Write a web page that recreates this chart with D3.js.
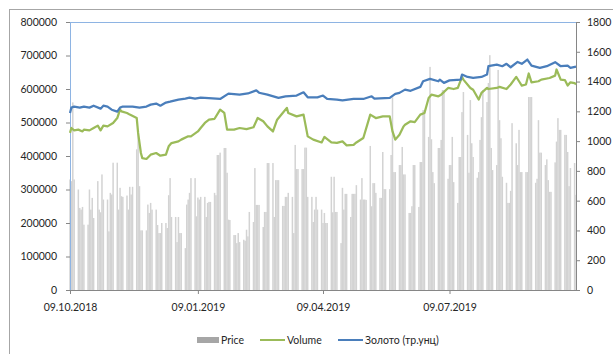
<!DOCTYPE html>
<html>
<head>
<meta charset="utf-8">
<script src="https://cdn.jsdelivr.net/npm/d3@7"></script>
<style>
  body { margin: 0; background: #fff; }
  svg { display: block; }
  text { font-family: Lato, "Open Sans", sans-serif; fill: #262626; }
</style>
</head>
<body>
<svg id="chart" width="613" height="354"></svg>
<script>
// ---- data -------------------------------------------------------------
const firstDay = "2018-10-09";
const lastDay = "2019-10-08";
const dateTicks = ["2018-10-09", "2019-01-09", "2019-04-09", "2019-07-09"];
const leftTicks = [0, 100000, 200000, 300000, 400000, 500000, 600000, 700000, 800000];
const rightTicks = [0, 200, 400, 600, 800, 1000, 1200, 1400, 1600, 1800];
const seriesNames = ["Price", "Volume", "Золото (тр.унц)"];

// daily price, one value per trading day (Mon–Fri) from firstDay to lastDay
const price = [
  330000, 325000, 560000, 330000,
  300000, 245000, 240000, 248000, 195000,
  195000, 300000, 240000, 275000, 215000,
  325000, 240000, 232000, 345000, 270000,
  270000, 175000, 290000, 285000, 380000,
  380000, 240000, 305000, 280000, 278000,
  282000, 240000, 308000, 285000, 308000,
  420000, 470000, 310000, 178000, 178000,
  178000, 255000, 230000, 260000, 240000,
  240000, 194000, 170000, 170000, 200000,
  200000, 185000, 283000, 334000, 218000,
  218000, 143000, 218000, 170000, 170000,
  125000, 255000, 270000, 290000, 334000,
  334000, 220000, 276000, 270000, 278000,
  278000, 218000, 260000, 263000, 263000,
  290000, 283000, 403000, 403000, 410000,
  424000, 424000, 350000, 210000, 209000,
  164000, 164000, 140000, 170000, 143000,
  150000, 147000, 180000, 160000, 233000,
  203000, 364000, 254000, 254000, 254000,
  188000, 233000, 233000, 379000, 379000,
  379000, 218000, 328000, 328000, 328000,
  251000, 251000, 278000, 278000, 290000,
  278000, 170000, 433000, 361000, 361000,
  361000, 361000, 425000, 425000, 278000,
  278000, 203000, 240000, 278000, 240000,
  240000, 200000, 230000, 200000, 200000,
  338000, 232000, 338000, 233000, 233000,
  140000, 305000, 240000, 287000, 287000,
  218000, 287000, 287000, 287000, 313000,
  270000, 334000, 270000, 270000, 269000,
  430000, 250000, 319000, 319000, 290000,
  275000, 275000, 412000, 301000, 301000,
  301000, 403000, 575000, 352000, 352000,
  373000, 373000, 427000, 345000, 345000,
  230000, 230000, 250000, 373000, 373000,
  248000, 382000, 382000, 537000, 537000,
  457000, 666000, 450000, 352000, 319000,
  424000, 424000, 448000, 597000, 597000,
  332000, 373000, 373000, 457000, 322000,
  260000, 397000, 397000, 531000, 591000,
  463000, 350000, 567000, 438000, 397000,
  335000, 352000, 448000, 516000, 597000,
  561000, 618000, 701000, 424000, 358000,
  373000, 657000, 507000, 453000, 338000,
  320000, 260000, 260000, 296000, 498000,
  438000, 373000, 478000, 352000, 352000,
  352000, 352000, 576000, 576000, 576000,
  320000, 332000, 507000, 410000, 410000,
  373000, 390000, 328000, 293000, 293000,
  381000, 443000, 513000, 478000, 478000,
  463000, 463000, 412000, 310000, 364000,
  379000, 284000
];

const volumeDates = [
  "2018-10-09","2018-10-10","2018-10-12","2018-10-15","2018-10-18","2018-10-19","2018-10-23","2018-10-26",
  "2018-10-29","2018-10-31","2018-11-02","2018-11-05","2018-11-09","2018-11-12","2018-11-14","2018-11-15",
  "2018-11-19","2018-11-21","2018-11-26","2018-11-27","2018-11-29","2018-11-30","2018-12-03","2018-12-06",
  "2018-12-10","2018-12-13","2018-12-17","2018-12-19","2018-12-21","2018-12-26","2018-12-28","2019-01-02",
  "2019-01-04","2019-01-09","2019-01-11","2019-01-14","2019-01-17","2019-01-21","2019-01-25","2019-01-28",
  "2019-01-30","2019-02-04","2019-02-08","2019-02-13","2019-02-18","2019-02-21","2019-02-25","2019-02-28",
  "2019-03-04","2019-03-07","2019-03-11","2019-03-14","2019-03-15","2019-03-21","2019-03-26","2019-03-29",
  "2019-04-02","2019-04-08","2019-04-10","2019-04-15","2019-04-19","2019-04-23","2019-04-26","2019-05-01",
  "2019-05-03","2019-05-08","2019-05-13","2019-05-17","2019-05-22","2019-05-27","2019-05-29","2019-05-31",
  "2019-06-03","2019-06-06","2019-06-07","2019-06-11","2019-06-14","2019-06-18","2019-06-21","2019-06-24",
  "2019-06-26","2019-07-01","2019-07-03","2019-07-08","2019-07-12","2019-07-15","2019-07-18","2019-07-19",
  "2019-07-24","2019-07-26","2019-07-30","2019-08-01","2019-08-05","2019-08-06","2019-08-12","2019-08-14",
  "2019-08-19","2019-08-22","2019-08-26","2019-08-28","2019-08-30","2019-09-02","2019-09-04","2019-09-06",
  "2019-09-11","2019-09-13","2019-09-19","2019-09-23","2019-09-24","2019-09-27","2019-09-30","2019-10-02",
  "2019-10-04","2019-10-07","2019-10-08"
];
const volume = [
  1055, 1088, 1072, 1077, 1065, 1077, 1072, 1088,
  1104, 1072, 1104, 1099, 1122, 1155, 1211, 1200,
  1189, 1178, 1155, 1055, 920, 886, 880, 909,
  920, 902, 909, 965, 987, 998, 1010, 1032,
  1032, 1065, 1088, 1122, 1144, 1150, 1211, 1190,
  1077, 1077, 1088, 1080, 1093, 1155, 1133, 1099,
  1065, 1144, 1189, 1223, 1189, 1166, 1178, 1032,
  1010, 991, 1028, 991, 988, 998, 971, 975,
  991, 1021, 1178, 1155, 1166, 1166, 1065, 1010,
  1043, 1099, 1110, 1133, 1128, 1178, 1189, 1290,
  1312, 1301, 1312, 1357, 1350, 1357, 1431, 1413,
  1357, 1345, 1279, 1324, 1357, 1350, 1357, 1364,
  1350, 1380, 1431, 1402, 1373, 1380, 1454, 1395,
  1402, 1413, 1424, 1440, 1481, 1413, 1410, 1373,
  1395, 1390, 1380
];

const goldDates = [
  "2018-10-09","2018-10-10","2018-10-12","2018-10-16","2018-10-19","2018-10-23","2018-10-26","2018-10-31",
  "2018-11-02","2018-11-05","2018-11-08","2018-11-12","2018-11-14","2018-11-16","2018-11-23","2018-11-28",
  "2018-12-03","2018-12-06","2018-12-10","2018-12-13","2018-12-17","2018-12-20","2018-12-26","2018-12-31",
  "2019-01-03","2019-01-07","2019-01-11","2019-01-14","2019-01-25","2019-01-31","2019-02-08","2019-02-14",
  "2019-02-20","2019-02-22","2019-02-28","2019-03-08","2019-03-13","2019-03-21","2019-03-26","2019-03-29",
  "2019-04-05","2019-04-09","2019-04-12","2019-04-19","2019-04-23","2019-05-01","2019-05-08","2019-05-14",
  "2019-05-16","2019-05-27","2019-05-31","2019-06-03","2019-06-07","2019-06-11","2019-06-18","2019-06-20",
  "2019-06-25","2019-07-01","2019-07-02","2019-07-05","2019-07-09","2019-07-17","2019-07-18","2019-07-22",
  "2019-07-26","2019-08-01","2019-08-05","2019-08-06","2019-08-12","2019-08-16","2019-08-19","2019-08-22",
  "2019-08-27","2019-08-30","2019-09-03","2019-09-06","2019-09-12","2019-09-17","2019-09-23","2019-09-27",
  "2019-10-02","2019-10-04","2019-10-08"
];
const gold = [
  1189, 1225, 1232, 1225, 1232, 1225, 1238, 1218,
  1238, 1232, 1211, 1198, 1225, 1232, 1232, 1225,
  1232, 1245, 1252, 1238, 1259, 1265, 1279, 1285,
  1292, 1285, 1292, 1290, 1283, 1319, 1312, 1320,
  1341, 1325, 1312, 1290, 1301, 1306, 1328, 1294,
  1294, 1306, 1283, 1279, 1274, 1283, 1283, 1301,
  1285, 1290, 1317, 1324, 1346, 1338, 1364, 1402,
  1418, 1402, 1413, 1391, 1408, 1413, 1447, 1431,
  1425, 1431, 1447, 1503, 1514, 1503, 1519, 1496,
  1532, 1519, 1548, 1507, 1492, 1503, 1530, 1503,
  1507, 1492, 1500
];

// ---- layout -----------------------------------------------------------
const svg = d3.select("#chart");
const plot = { left: 70, right: 576, top: 22, bottom: 290 };
const parse = d3.utcParse("%Y-%m-%d");
const fmtDate = d3.utcFormat("%d.%m.%Y");

const tradingDays = d3.utcDay.range(parse(firstDay), d3.utcDay.offset(parse(lastDay), 1))
  .filter(d => d.getUTCDay() !== 0 && d.getUTCDay() !== 6);
const priceRows = tradingDays.map((d, i) => ({ date: d, value: price[i] }));
const volumeRows = volumeDates.map((d, i) => ({ date: parse(d), value: volume[i] }));
const goldRows = goldDates.map((d, i) => ({ date: parse(d), value: gold[i] }));

const x = d3.scaleUtc().domain([parse(firstDay), parse(lastDay)]).range([plot.left, plot.right]);
const yL = d3.scaleLinear().domain([0, 800000]).range([plot.bottom, plot.top]);
const yR = d3.scaleLinear().domain([0, 1800]).range([plot.bottom, plot.top]);

// outer chart frame
svg.append("rect").attr("x", 9.5).attr("y", 9.5).attr("width", 640).attr("height", 400)
  .attr("fill", "none").attr("stroke", "#a6a6a6").attr("stroke-width", 1);

// price columns
const barW = 1.5;
svg.append("g").selectAll("rect").data(priceRows).join("rect")
  .attr("x", d => x(d.date) - barW / 2)
  .attr("y", d => yL(d.value))
  .attr("width", barW)
  .attr("height", d => yL(0) - yL(d.value))
  .attr("fill", "#d3d3d3");

// top edge of the plot area
svg.append("line").attr("x1", plot.left).attr("x2", plot.right)
  .attr("y1", plot.top + 0.5).attr("y2", plot.top + 0.5)
  .attr("stroke", "#8eb4e3").attr("stroke-width", 1);

// axes
const styleAxis = (g, color) => {
  g.select(".domain").attr("stroke", color);
  g.selectAll(".tick line").attr("stroke", "#868686");
  g.selectAll(".tick text").attr("font-size", "10.5px").attr("fill", "#262626");
};

svg.append("g").attr("transform", `translate(${plot.left},0)`)
  .call(d3.axisLeft(yL).tickValues(leftTicks).tickFormat(d3.format("d")).tickSize(4).tickSizeOuter(0).tickPadding(9))
  .call(g => styleAxis(g, "#8eb4e3"));

svg.append("g").attr("transform", `translate(${plot.right},0)`)
  .call(d3.axisRight(yR).tickValues(rightTicks).tickFormat(d3.format("d")).tickSize(4).tickSizeOuter(0).tickPadding(7))
  .call(g => styleAxis(g, "#868686"));

svg.append("g").attr("transform", `translate(0,${plot.bottom})`)
  .call(d3.axisBottom(x).tickValues(dateTicks.map(parse)).tickFormat(fmtDate).tickSize(4).tickSizeOuter(0).tickPadding(10))
  .call(g => styleAxis(g, "#868686"));

// lines on the right-hand scale
const line = d3.line().x(d => x(d.date)).y(d => yR(d.value));
svg.append("path").datum(volumeRows).attr("d", line)
  .attr("fill", "none").attr("stroke", "#9bbb59").attr("stroke-width", 2.25).attr("stroke-linejoin", "round");
svg.append("path").datum(goldRows).attr("d", line)
  .attr("fill", "none").attr("stroke", "#4a7ebb").attr("stroke-width", 2.25).attr("stroke-linejoin", "round");

// legend
const leg = svg.append("g").attr("font-size", "10.5px");
leg.append("rect").attr("x", 197).attr("y", 337).attr("width", 22).attr("height", 6).attr("fill", "#a6a6a6");
leg.append("text").attr("x", 221).attr("y", 344).text(seriesNames[0]);
leg.append("line").attr("x1", 260).attr("x2", 285).attr("y1", 340).attr("y2", 340)
  .attr("stroke", "#9bbb59").attr("stroke-width", 2);
leg.append("text").attr("x", 287).attr("y", 344).text(seriesNames[1]);
leg.append("line").attr("x1", 338).attr("x2", 363).attr("y1", 340).attr("y2", 340)
  .attr("stroke", "#4a7ebb").attr("stroke-width", 2);
leg.append("text").attr("x", 365).attr("y", 344).text(seriesNames[2]);
</script>
</body>
</html>
